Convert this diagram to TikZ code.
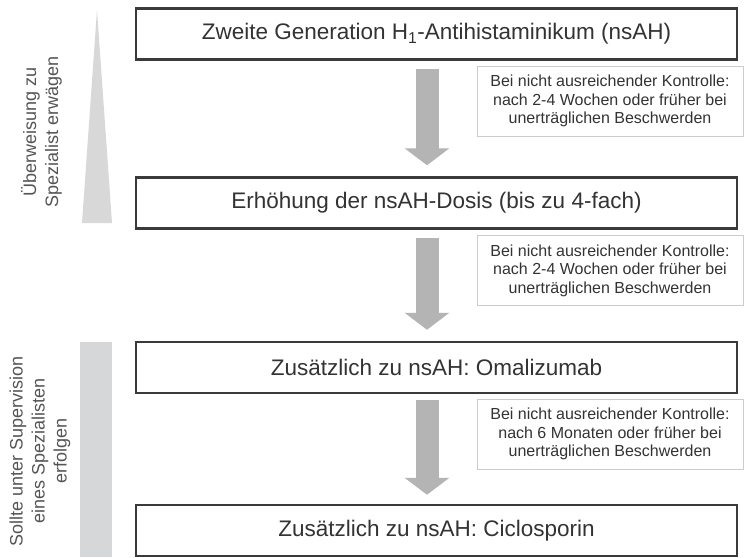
\documentclass[tikz,border=0pt]{standalone}
\usepackage{fontspec}
\setmainfont{Liberation Sans}
\usetikzlibrary{calc,arrows.meta}
\definecolor{boxline}{HTML}{3A3A3A}
\definecolor{textgrey}{HTML}{333333}
\definecolor{sidegrey}{HTML}{555555}
\definecolor{notegrey}{HTML}{CCCCCC}
\definecolor{arrowgrey}{HTML}{B4B4B4}
\definecolor{trigrey}{HTML}{D8D8D8}
\definecolor{bargrey}{HTML}{D6D7D9}

\begin{document}
\begin{tikzpicture}[x=1pt,y=-1pt,
  stepbox/.style={draw=boxline,line width=2.5pt,fill=white,minimum width=601pt,minimum height=51pt,inner sep=0pt,text=textgrey,font=\fontsize{22.5}{26}\selectfont},
  notebox/.style={draw=notegrey,line width=1pt,fill=white,minimum width=266pt,minimum height=70pt,inner sep=0pt,align=center,text=textgrey,font=\fontsize{16}{18.5}\selectfont},
  sidetext/.style={rotate=90,align=center,text=sidegrey,font=\fontsize{18}{22}\selectfont},
  blockarrow/.style={line width=23pt,draw=arrowgrey,-{Triangle[width=44pt,length=17pt]}}]
  \useasboundingbox (0,0) rectangle (744,557);
  \fill[white] (0,0) rectangle (744,557);
  \fill[trigrey] (97,10) -- (112,223) -- (82,223) -- cycle;
  \fill[bargrey] (80,342) rectangle (112,557);
  \node[sidetext] (refer) at (41.5,132) {Überweisung zu\\Spezialist erwägen};
  \node[sidetext] (superv) at (40,451) {Sollte unter Supervision\\eines Spezialisten\\erfolgen};

  \node[stepbox] (s1) at (436.5,34) {Zweite Generation H\textsubscript{1}-Antihistaminikum (nsAH)};
  \node[stepbox] (s2) at (436.5,203) {Erhöhung der nsAH-Dosis (bis zu 4-fach)};
  \node[stepbox] (s3) at (436.5,367.5) {Zusätzlich zu nsAH: Omalizumab};
  \node[stepbox] (s4) at (436.5,530.5) {Zusätzlich zu nsAH: Ciclosporin};

  \node[notebox] (n1) at (610,101) {Bei nicht ausreichender Kontrolle:\\nach 2-4 Wochen oder früher bei\\unerträglichen Beschwerden};
  \node[notebox] (n2) at (610,270.5) {Bei nicht ausreichender Kontrolle:\\nach 2-4 Wochen oder früher bei\\unerträglichen Beschwerden};
  \node[notebox] (n3) at (610,434) {Bei nicht ausreichender Kontrolle:\\nach 6 Monaten oder früher bei\\unerträglichen Beschwerden};

  \draw[blockarrow] ($(s1.south)+(-9.5,8)$) -- ($(s2.north)+(-9.5,-11)$);
  \draw[blockarrow] ($(s2.south)+(-9.5,8)$) -- ($(s3.north)+(-9.5,-11)$);
  \draw[blockarrow] ($(s3.south)+(-9.5,6)$) -- ($(s4.north)+(-9.5,-9)$);
\end{tikzpicture}
\end{document}
